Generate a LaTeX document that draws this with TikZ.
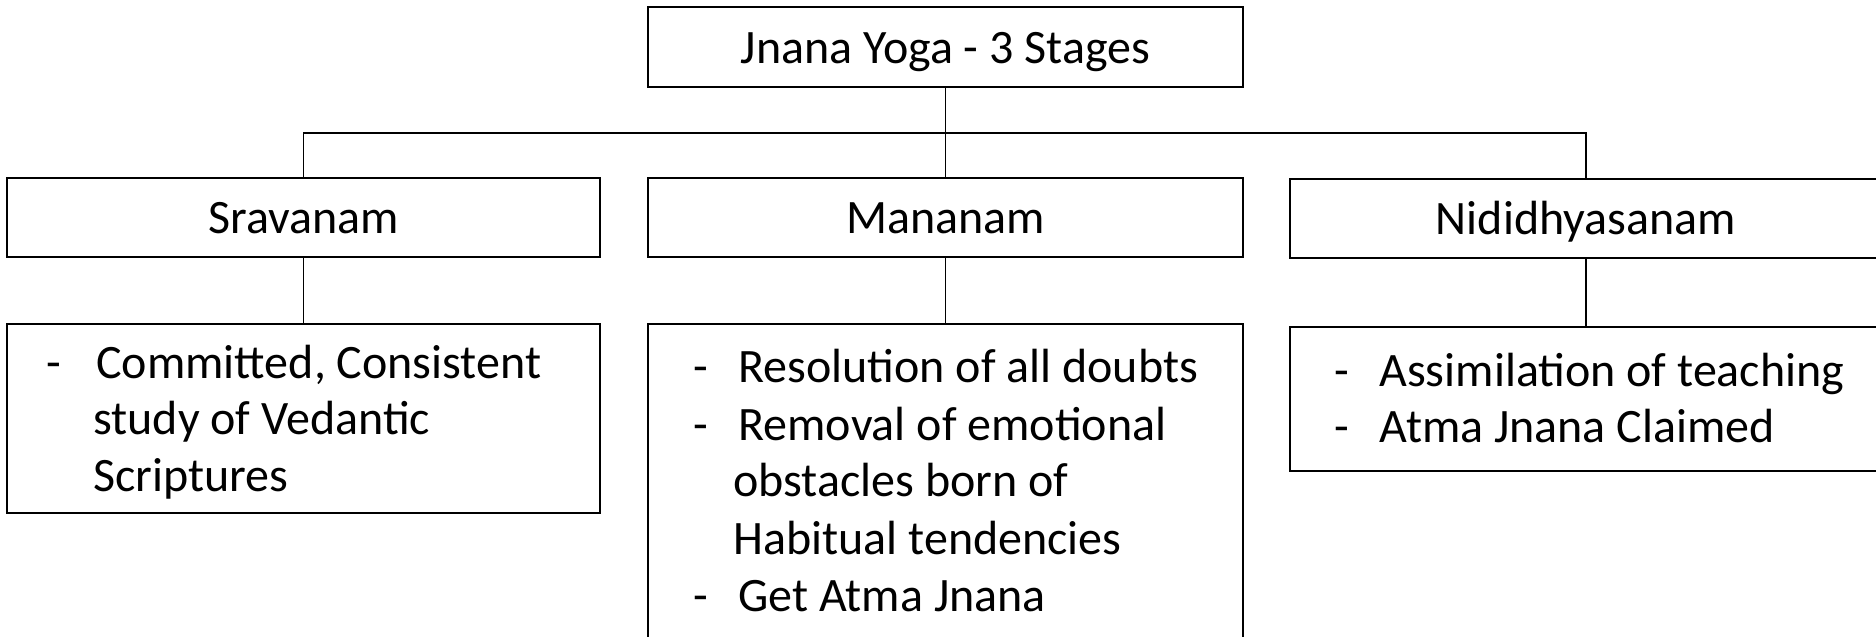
\documentclass[tikz,border=0pt]{standalone}
\usepackage{fontspec}
\setmainfont{Carlito}
\begin{document}
\begin{tikzpicture}[x=0.5pt,y=-0.5pt,
  box/.style={draw=black,line width=0.9pt,inner sep=0pt,fill=white},
  txt/.style={inner sep=0pt,anchor=base,font=\fontsize{24pt}{28pt}\selectfont},
  ltxt/.style={txt,anchor=base west},
  conn/.style={draw=black,line width=0.7pt}]
\useasboundingbox (0,0) rectangle (1876,637);
\clip (0,0) rectangle (1876,637);
% boxes
\node[box,minimum width=297.5pt,minimum height=40pt] (top) at (945.5,47) {};
\node[box,minimum width=296.5pt,minimum height=39.5pt] (sra) at (303.5,217.5) {};
\node[box,minimum width=297.5pt,minimum height=39.5pt] (man) at (945.5,217.5) {};
\node[box,minimum width=296pt,minimum height=39.5pt] (nid) at (1586,218.5) {};
\node[box,minimum width=296.5pt,minimum height=94.5pt] (srab) at (303.5,418.5) {};
\node[box,minimum width=297.5pt,minimum height=188pt] (manb) at (945.5,512) {};
\node[box,minimum width=296pt,minimum height=72pt] (nidb) at (1586,399) {};
% connectors
\coordinate (jn) at (945.5,133);
\draw[conn] (top.south) -- (jn);
\draw[conn] (jn) -| (sra.north);
\draw[conn] (jn) -| (nid.north);
\draw[conn] (jn) -- (man.north);
\draw[conn] (sra.south) -- (srab.north);
\draw[conn] (man.south) -- (manb.north);
\draw[conn] (nid.south) -- (nidb.north);
% titles
\node[txt] (ttop) at (945.5,63) {Jnana Yoga - 3 Stages};
\node[txt] (tsra) at (303.5,233) {Sravanam};
\node[txt] (tman) at (945.5,233) {Mananam};
\node[txt] (tnid) at (1586,234) {Nididhyasanam};
% Sravanam details
\node[ltxt] (sd1) at (46,378) {-};
\node[ltxt] (s1) at (96,378) {Committed, Consistent};
\node[ltxt] (s2) at (93,434) {study of Vedantic};
\node[ltxt] (s3) at (93,491) {Scriptures};
% Mananam details
\node[ltxt] (md1) at (693,382) {-};
\node[ltxt] (m1) at (738,382) {Resolution of all doubts};
\node[ltxt] (md2) at (693,440) {-};
\node[ltxt] (m2) at (738,440) {Removal of emotional};
\node[ltxt] (m3) at (733,496) {obstacles born of};
\node[ltxt] (m4) at (733,554) {Habitual tendencies};
\node[ltxt] (md3) at (693,611) {-};
\node[ltxt] (m5) at (738,611) {Get Atma Jnana};
% Nididhyasanam details
\node[ltxt] (nd1) at (1334,386) {-};
\node[ltxt] (n1) at (1379,386) {Assimilation of teaching};
\node[ltxt] (nd2) at (1334,442) {-};
\node[ltxt] (n2) at (1379,442) {Atma Jnana Claimed};
\end{tikzpicture}
\end{document}
